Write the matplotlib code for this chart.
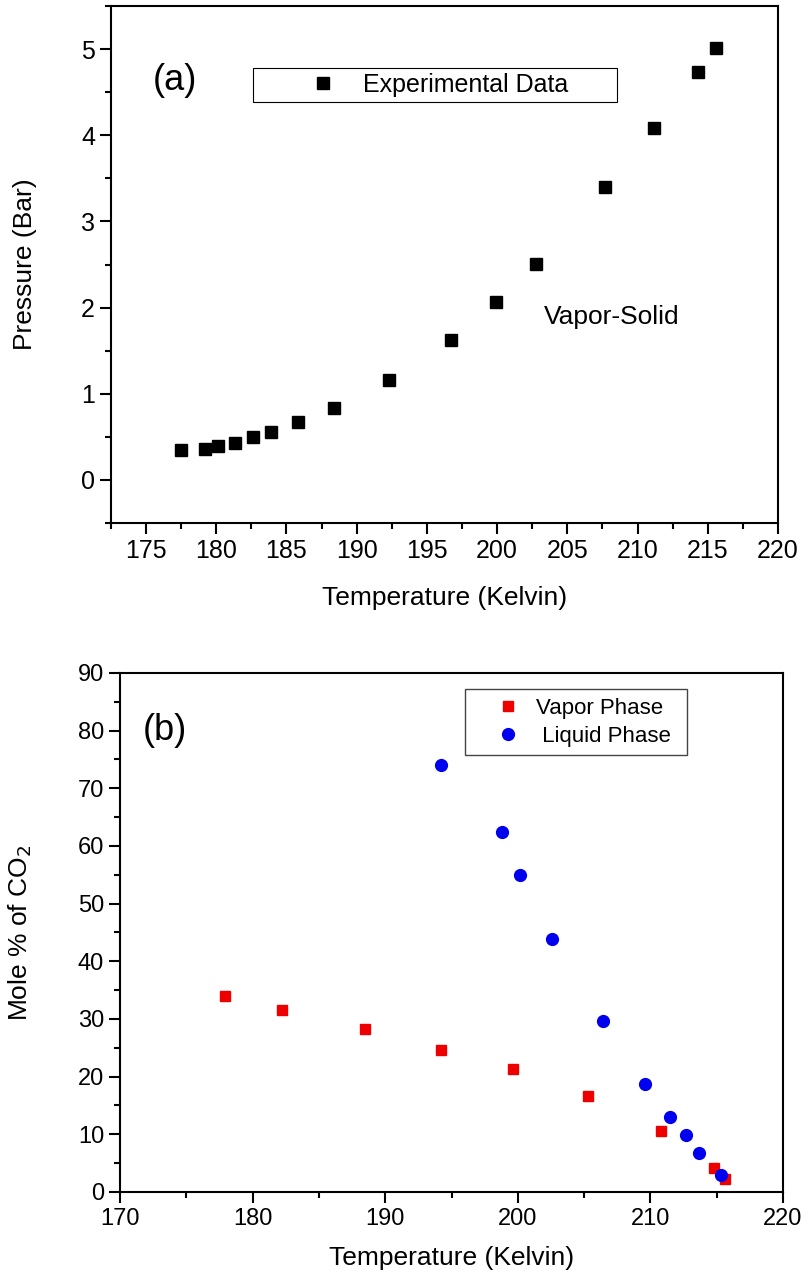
import matplotlib
matplotlib.use('Agg')
import matplotlib.pyplot as plt
from matplotlib.ticker import MultipleLocator

plt.rcParams['font.family'] = ['Liberation Sans', 'DejaVu Sans']

# panel (a): vapor-solid pressure
temp_a = [177.5, 179.2, 180.1, 181.3, 182.6, 183.9, 185.8, 188.4, 192.3, 196.7,
          199.9, 202.8, 207.7, 211.2, 214.3, 215.6]
pres_a = [0.35, 0.36, 0.39, 0.43, 0.50, 0.56, 0.67, 0.83, 1.16, 1.62,
          2.06, 2.51, 3.40, 4.08, 4.73, 5.01]

# panel (b): mole % CO2
temp_vap = [177.9, 182.2, 188.5, 194.2, 199.6, 205.3, 210.8, 214.8, 215.6]
mole_vap = [33.9, 31.6, 28.2, 24.7, 21.3, 16.6, 10.6, 4.2, 2.2]
temp_liq = [194.2, 198.8, 200.2, 202.6, 206.4, 209.6, 211.5, 212.7, 213.7, 215.3]
mole_liq = [74.1, 62.4, 55.0, 43.9, 29.7, 18.8, 13.0, 9.9, 6.8, 2.9]


def style_axes(ax, fsize):
    for s in ax.spines.values():
        s.set_linewidth(1.5)
    ax.tick_params(which='major', direction='out', length=8, width=1.5, labelsize=fsize)
    ax.tick_params(which='minor', direction='out', length=4.5, width=1.5)


def place_labels(ax, xlab, ylab, xpos, ypos, fsize):
    ax.set_xlabel(xlab, fontsize=fsize, va='center')
    ax.set_ylabel(ylab, fontsize=fsize, va='center')
    ax.xaxis.set_label_coords(0.5, xpos)
    ax.yaxis.set_label_coords(ypos, 0.5)


fig = plt.figure(figsize=(8.07, 12.81), dpi=100)

# ---- (a)
ax1 = fig.add_axes([0.1375, 0.5917, 0.8265, 0.4036])
ax1.plot(temp_a, pres_a, linestyle='none', marker='s', ms=8.5, color='k',
         label='Experimental Data')
ax1.set_xlim(172.5, 220)
ax1.set_ylim(-0.5, 5.5)
ax1.xaxis.set_major_locator(MultipleLocator(5))
ax1.xaxis.set_minor_locator(MultipleLocator(2.5))
ax1.yaxis.set_major_locator(MultipleLocator(1))
ax1.yaxis.set_minor_locator(MultipleLocator(0.5))
style_axes(ax1, 18)
place_labels(ax1, 'Temperature (Kelvin)', 'Pressure (Bar)', -0.145, -0.129, 19)
ax1.text(175.5, 4.63, '(a)', fontsize=26, va='center')
ax1.text(203.3, 1.89, 'Vapor-Solid', fontsize=19, va='center')
leg = ax1.legend(loc='upper left', bbox_to_anchor=(0.213, 0.814, 0.546, 0.066), mode='expand',
                 fancybox=False, edgecolor='k', framealpha=1, borderpad=0.2,
                 handlelength=5.2, handletextpad=-1.0, borderaxespad=0,
                 prop={'size': 18})
leg.get_frame().set_linewidth(0.8)

# ---- (b)
ax2 = fig.add_axes([0.1487, 0.0695, 0.8216, 0.4052])
ax2.plot(temp_vap, mole_vap, linestyle='none', marker='s', ms=7.5, color='#ee0000',
         label='Vapor Phase')
ax2.plot(temp_liq, mole_liq, linestyle='none', marker='o', ms=8.5, color='#0000ee',
         label=' Liquid Phase')
ax2.set_xlim(170, 220)
ax2.set_ylim(0, 90)
ax2.xaxis.set_major_locator(MultipleLocator(10))
ax2.xaxis.set_minor_locator(MultipleLocator(5))
ax2.yaxis.set_major_locator(MultipleLocator(10))
ax2.yaxis.set_minor_locator(MultipleLocator(5))
style_axes(ax2, 17)
place_labels(ax2, 'Temperature (Kelvin)', 'Mole % of CO$_2$', -0.127, -0.151, 19)
ax2.text(171.7, 80.1, '(b)', fontsize=26, va='center')
leg2 = ax2.legend(loc='upper left', bbox_to_anchor=(0.52, 0.848, 0.335, 0.121), mode='expand',
                  fancybox=False, edgecolor='#444444', framealpha=1, borderpad=0.4,
                  handlelength=3.1, handletextpad=-0.3, borderaxespad=0, labelspacing=0.3,
                  prop={'size': 16})
leg2.get_frame().set_linewidth(1.0)

fig.savefig('out.png', dpi=100)
